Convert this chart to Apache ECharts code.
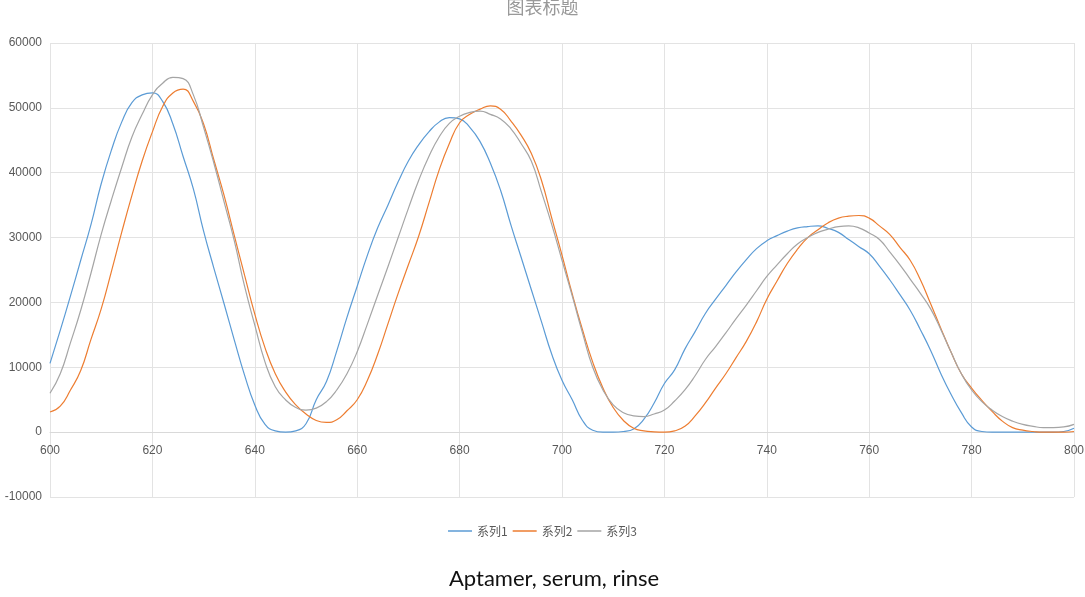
<!DOCTYPE html>
<html>
<head>
<meta charset="utf-8">
<script src="https://cdn.jsdelivr.net/npm/echarts@6/dist/echarts.min.js"></script>
<style>
  html, body { margin: 0; padding: 0; background: #fff; }
  #main { width: 1085px; height: 597px; }
</style>
</head>
<body>
<div id="main"></div>
<script>
// x 轴 (600 - 800, 每 2 取一点)
var xData = [600, 602, 604, 606, 608, 610, 612, 614, 616, 618,
  620, 622, 624, 626, 628, 630, 632, 634, 636, 638,
  640, 642, 644, 646, 648, 650, 652, 654, 656, 658,
  660, 662, 664, 666, 668, 670, 672, 674, 676, 678,
  680, 682, 684, 686, 688, 690, 692, 694, 696, 698,
  700, 702, 704, 706, 708, 710, 712, 714, 716, 718,
  720, 722, 724, 726, 728, 730, 732, 734, 736, 738,
  740, 742, 744, 746, 748, 750, 752, 754, 756, 758,
  760, 762, 764, 766, 768, 770, 772, 774, 776, 778,
  780, 782, 784, 786, 788, 790, 792, 794, 796, 798, 800];

// 系列1 (蓝)
var series1 = [10600, 15700, 21000, 26500, 32000, 38300, 43500, 47800, 50800, 52000,
  52300, 51000, 47500, 42500, 37500, 31000, 25300, 19800, 14200, 8800,
  4200, 1200, 200, 0, 200, 1300, 5000, 7800, 12500, 17700,
  22500, 27300, 31500, 35000, 38600, 41800, 44300, 46300, 47800, 48500,
  48300, 47000, 44800, 41500, 37300, 32000, 27000, 22000, 17000, 12000,
  8000, 5000, 1800, 300, 0, 0, 100, 500, 2000, 4500,
  7500, 9600, 12800, 15500, 18300, 20500, 22600, 24700, 26600, 28300,
  29500, 30300, 31000, 31500, 31700, 31800, 31400, 30800, 29700, 28600,
  27500, 25600, 23500, 21200, 18800, 15800, 12600, 9000, 5800, 3000,
  800, 100, 0, 0, 0, 0, 0, 0, 0, 100, 600];

// 系列2 (橙)
var series2 = [3100, 4000, 6500, 9500, 14300, 19000, 24800, 30800, 36500, 41800,
  46300, 50200, 52300, 52900, 51000, 47500, 42000, 36500, 30300, 24200,
  18200, 13000, 9000, 6200, 4200, 2800, 1800, 1500, 1900, 3300,
  5000, 8000, 12000, 16700, 21400, 25800, 30200, 35300, 40400, 44500,
  47700, 49000, 49800, 50300, 49800, 48000, 45800, 43000, 38800, 33000,
  27300, 21300, 15800, 10800, 6800, 3800, 1800, 600, 200, 50,
  0, 200, 900, 2500, 4500, 6800, 9000, 11500, 14000, 17000,
  20500, 23300, 26000, 28200, 30000, 31200, 32300, 33000, 33300, 33400,
  33000, 31800, 30500, 28500, 26500, 23500, 19800, 16000, 12300, 9000,
  6800, 4900, 3200, 1700, 700, 300, 100, 0, 0, 0, 100];

// 系列3 (灰)
var series3 = [6000, 9000, 13800, 18800, 24500, 30500, 35800, 40800, 45500, 49000,
  52000, 53800, 54700, 54500, 52000, 47000, 41500, 35500, 29500, 22500,
  16500, 10800, 7000, 5000, 3800, 3400, 3700, 4700, 6500, 9000,
  12400, 16700, 21100, 25500, 30000, 34500, 38800, 42500, 45500, 47600,
  48700, 49300, 49500, 49000, 48300, 46800, 44500, 41800, 37000, 32000,
  26500, 21000, 15300, 10000, 6500, 4200, 3000, 2500, 2400, 2800,
  3400, 4800, 6500, 8700, 11200, 13200, 15300, 17500, 19600, 21800,
  24000, 25800, 27500, 29000, 30000, 30800, 31300, 31700, 31800, 31500,
  30700, 29700, 27800, 25800, 23600, 21400, 19000, 15800, 12300, 9000,
  6500, 4700, 3400, 2400, 1700, 1200, 900, 700, 700, 800, 1200];

var seriesNames = ['系列1', '系列2', '系列3'];

function toPairs(ys) {
  return xData.map(function (x, i) { return [x, ys[i]]; });
}

var chart = echarts.init(document.getElementById('main'));

var option = {
  backgroundColor: '#fff',
  animation: false,
  color: ['#5b9bd5', '#ed7d31', '#a5a5a5'],
  title: [{
    text: '图表标题',
    left: 'center',
    top: -7,
    textStyle: { fontSize: 18, fontWeight: 'normal', color: '#999', fontFamily: 'Noto Sans CJK SC' }
  }, {
    text: 'Aptamer, serum, rinse',
    left: 444,
    top: 563,
    textStyle: { fontSize: 22, fontWeight: 'normal', color: '#111', fontFamily: 'Lato' }
  }],
  legend: {
    data: seriesNames,
    left: 'center',
    top: 520,
    icon: 'rect',
    itemWidth: 24,
    itemHeight: 1.5,
    itemGap: 5,
    textStyle: { color: '#595959', fontSize: 12, fontFamily: 'Noto Sans CJK SC' }
  },
  grid: { left: 50, right: 11, top: 43, bottom: 100, containLabel: false, outerBoundsMode: 'none' },
  xAxis: {
    type: 'value',
    min: 600,
    max: 800,
    interval: 20,
    axisLine: { show: true, onZero: true, lineStyle: { color: '#d9d9d9' } },
    axisTick: { show: false },
    // 标签贴在 0 线下方
    axisLabel: { color: '#595959', fontSize: 12, margin: -52 },
    splitLine: { show: true, lineStyle: { color: '#e3e3e3' } }
  },
  yAxis: {
    type: 'value',
    min: -10000,
    max: 60000,
    interval: 10000,
    axisLine: { show: false },
    axisTick: { show: false },
    axisLabel: { color: '#595959', fontSize: 12, margin: 8, formatter: function (v) { return String(v); } },
    splitLine: {
      show: true,
      lineStyle: {
        // 0 线稍深
        color: ['#e3e3e3', '#cfcfcf', '#e3e3e3', '#e3e3e3', '#e3e3e3', '#e3e3e3', '#e3e3e3', '#e3e3e3']
      }
    }
  },
  series: [series1, series2, series3].map(function (ys, i) {
    return {
      name: seriesNames[i],
      type: 'line',
      symbol: 'none',
      smooth: true,
      lineStyle: { width: 1.2 },
      data: toPairs(ys)
    };
  })
};

chart.setOption(option);
</script>
</body>
</html>
